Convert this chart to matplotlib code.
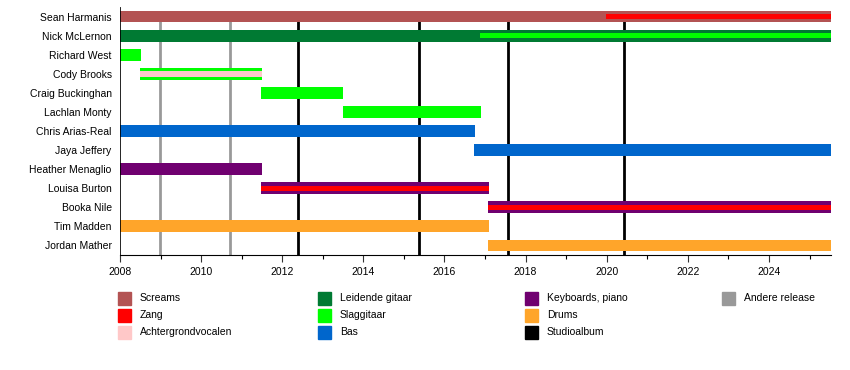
import matplotlib
matplotlib.use("Agg")
import matplotlib.pyplot as plt
from matplotlib.patches import Rectangle
from matplotlib.ticker import MultipleLocator

plt.rcParams['font.family'] = ['Liberation Sans', 'DejaVu Sans']

END = 2025.53

members = ["Sean Harmanis", "Nick McLernon", "Richard West", "Cody Brooks",
           "Craig Buckinghan", "Lachlan Monty", "Chris Arias-Real", "Jaya Jeffery",
           "Heather Menaglio", "Louisa Burton", "Booka Nile", "Tim Madden",
           "Jordan Mather"]

colors = {
    "Screams": "#B35353",
    "Zang": "#FF0000",
    "Achtergrondvocalen": "#FFC8C8",
    "Leidende gitaar": "#007A33",
    "Slaggitaar": "#00FF00",
    "Bas": "#0066CC",
    "Keyboards, piano": "#700070",
    "Drums": "#FFA52A",
    "Studioalbum": "#000000",
    "Andere release": "#999999",
}

# main bars: (member, role, start, end)
main_bars = [
    ("Sean Harmanis", "Screams", 2008.0, END),
    ("Nick McLernon", "Leidende gitaar", 2008.0, END),
    ("Richard West", "Slaggitaar", 2008.0, 2008.52),
    ("Cody Brooks", "Slaggitaar", 2008.5, 2011.5),
    ("Craig Buckinghan", "Slaggitaar", 2011.48, 2013.5),
    ("Lachlan Monty", "Slaggitaar", 2013.5, 2016.9),
    ("Chris Arias-Real", "Bas", 2008.0, 2016.75),
    ("Jaya Jeffery", "Bas", 2016.73, END),
    ("Heather Menaglio", "Keyboards, piano", 2008.0, 2011.5),
    ("Louisa Burton", "Keyboards, piano", 2011.48, 2017.1),
    ("Booka Nile", "Keyboards, piano", 2017.08, END),
    ("Tim Madden", "Drums", 2008.0, 2017.1),
    ("Jordan Mather", "Drums", 2017.08, END),
]

# secondary roles drawn as stripe inside the bar
stripes = [
    ("Sean Harmanis", "Zang", 2019.98, END),
    ("Nick McLernon", "Slaggitaar", 2016.88, END),
    ("Cody Brooks", "Achtergrondvocalen", 2008.5, 2011.5),
    ("Louisa Burton", "Zang", 2011.48, 2017.1),
    ("Booka Nile", "Zang", 2017.08, END),
]

studio_albums = [2012.39, 2015.37, 2017.57, 2020.43]
other_releases = [2008.99, 2010.71]

fig = plt.figure(figsize=(8.5, 3.7), dpi=100)
ax = fig.add_axes([120/850, 1 - 255/370, 711/850, 248/370])

row = {m: i for i, m in enumerate(members)}
n = len(members)

ax.vlines(other_releases, 0, n - 0.5, color=colors["Andere release"], lw=2, zorder=1)
ax.vlines(studio_albums, 0, n - 0.5, color=colors["Studioalbum"], lw=2, zorder=1)

for m, role, s, e in main_bars:
    ax.barh(row[m], e - s, left=s, height=0.62, color=colors[role], zorder=2)
for m, role, s, e in stripes:
    h = 0.3 if role == "Achtergrondvocalen" else 0.25
    ax.barh(row[m], e - s, left=s, height=h, color=colors[role], zorder=3)

ax.set_xlim(2008, END)
ax.set_ylim(n - 0.5, -0.5)
ax.set_yticks(range(n))
ax.set_yticklabels(members, fontsize=7.5)
ax.tick_params(axis='y', length=0, pad=6)
ax.xaxis.set_major_locator(MultipleLocator(2))
ax.xaxis.set_minor_locator(MultipleLocator(1))
ax.tick_params(axis='x', labelsize=7.5, length=5, width=0.8, color='#333333')
ax.tick_params(axis='x', which='minor', length=3, width=0.8)
for s in ['top', 'right']:
    ax.spines[s].set_visible(False)
ax.spines['bottom'].set_linewidth(0.8)
ax.spines['left'].set_linewidth(0.6)

# legend laid out like the reference: three rows, four columns
legend_cols = [
    ["Screams", "Zang", "Achtergrondvocalen"],
    ["Leidende gitaar", "Slaggitaar", "Bas"],
    ["Keyboards, piano", "Drums", "Studioalbum"],
    ["Andere release"],
]
col_x = [118, 318, 525, 722]
row_y = [298, 315, 332]
for cx, entries in zip(col_x, legend_cols):
    for ry, name in zip(row_y, entries):
        fig.add_artist(Rectangle((cx/850, 1 - (ry + 6.5)/370), 13/850, 13/370,
                                 transform=fig.transFigure, color=colors[name]))
        fig.text((cx + 22)/850, 1 - ry/370, name, fontsize=7.5, va='center')

fig.savefig("out.png", dpi=100)
